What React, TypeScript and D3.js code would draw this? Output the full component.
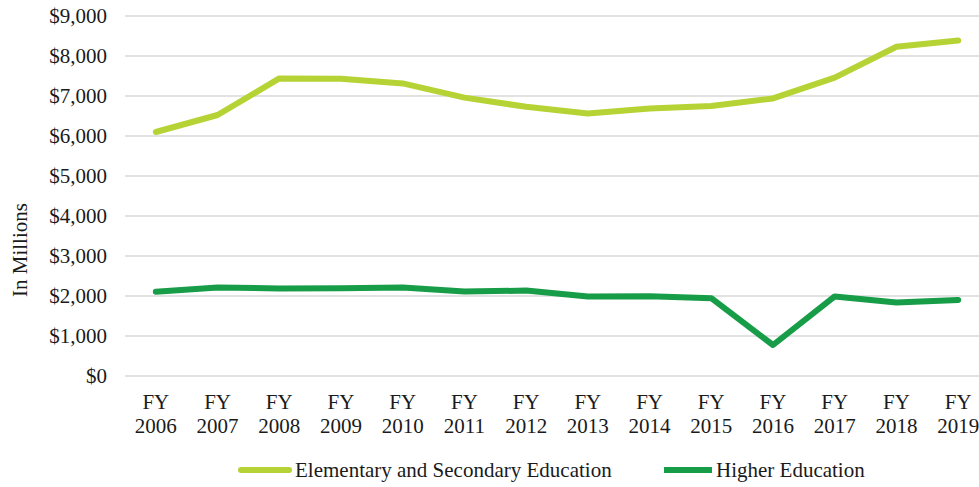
import React from "react";
import * as d3 from "d3";

const years = ["2006","2007","2008","2009","2010","2011","2012","2013","2014","2015","2016","2017","2018","2019"];
const elementary = [6100, 6525, 7440, 7430, 7315, 6960, 6730, 6565, 6690, 6750, 6940, 7460, 8230, 8385];
const higher = [2105, 2215, 2190, 2195, 2215, 2110, 2135, 1985, 1995, 1945, 775, 1990, 1835, 1900];
const yTicks = [0, 1000, 2000, 3000, 4000, 5000, 6000, 7000, 8000, 9000];
const seriesNames = ["Elementary and Secondary Education", "Higher Education"];
const seriesColors = ["#b5d334", "#179c47"];

const W = 979, H = 487;
const FONT = "'Liberation Serif', 'Times New Roman', serif";

export default function App() {
  const x = d3.scalePoint<string>().domain(years).range([125, 989]).padding(0.5);
  const y = d3.scaleLinear().domain([0, 9000]).range([376, 16]);
  const line = d3.line<number>()
    .x((_, i) => x(years[i]) as number)
    .y((d) => y(d));
  const fmt = (v: number) => "$" + d3.format(",")(v);
  const series = [elementary, higher];

  return (
    <div style={{ position: "absolute", left: 0, top: 0 }}>
      <svg width={W} height={H} style={{ display: "block", background: "#fff" }} fontFamily={FONT}>
        {yTicks.map((t) => (
          <g key={t}>
            <line x1={125} x2={979} y1={y(t)} y2={y(t)} stroke="#d9d9d9" strokeWidth={1.3} />
            <text x={107} y={y(t)} dy="0.35em" textAnchor="end" fontSize={21} fill="#1a1a1a">{fmt(t)}</text>
          </g>
        ))}
        <text transform={`translate(27,250) rotate(-90)`} textAnchor="middle" fontSize={21} fill="#1a1a1a">In Millions</text>
        {years.map((yr) => (
          <g key={yr}>
            <text x={x(yr)} y={409} textAnchor="middle" fontSize={21} fill="#1a1a1a">FY</text>
            <text x={x(yr)} y={433} textAnchor="middle" fontSize={21} fill="#1a1a1a">{yr}</text>
          </g>
        ))}
        {series.map((s, i) => (
          <path key={i} d={line(s) || ""} fill="none" stroke={seriesColors[i]} strokeWidth={6} strokeLinecap="round" strokeLinejoin="round" />
        ))}
        <g>
          <line x1={241} x2={289} y1={470} y2={470} stroke={seriesColors[0]} strokeWidth={6} strokeLinecap="round" />
          <text x={295} y={477} fontSize={21} fill="#1a1a1a">{seriesNames[0]}</text>
          <line x1={664} x2={712} y1={470} y2={470} stroke={seriesColors[1]} strokeWidth={6} />
          <text x={716} y={477} fontSize={21} fill="#1a1a1a">{seriesNames[1]}</text>
        </g>
      </svg>
    </div>
  );
}
